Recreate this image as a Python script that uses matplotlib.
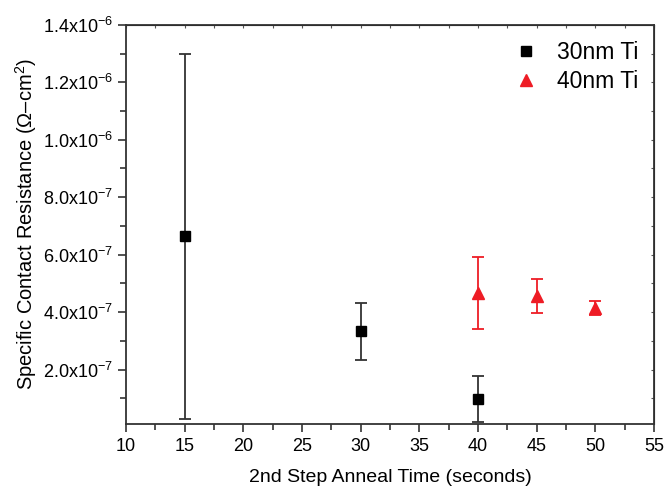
import matplotlib
matplotlib.use('Agg')
import matplotlib.pyplot as plt
from matplotlib.ticker import FuncFormatter, MultipleLocator

plt.rcParams['font.family'] = ['Liberation Sans', 'DejaVu Sans']
plt.rcParams['mathtext.fontset'] = 'custom'
plt.rcParams['mathtext.rm'] = 'Liberation Sans'

# 30nm Ti
t30 = [15, 30, 40]
rc30 = [6.64e-7, 3.33e-7, 0.98e-7]
err30 = [6.36e-7, 0.98e-7, 0.80e-7]

# 40nm Ti
t40 = [40, 45, 50]
rc40 = [4.66e-7, 4.56e-7, 4.15e-7]
err40 = [1.26e-7, 0.58e-7, 0.25e-7]

yticks = [2e-7, 4e-7, 6e-7, 8e-7, 1.0e-6, 1.2e-6, 1.4e-6]

red = '#ee1c25'


def sci_fmt(v, pos):
    exp = int(('%.1e' % v).split('e')[1])
    mant = v / 10**exp
    return r'$\mathregular{%.1fx10^{%d}}$' % (mant, exp)


fig = plt.figure(figsize=(6.64, 4.87), dpi=100)
ax = fig.add_axes([0.190, 0.129, 0.795, 0.820])

ax.errorbar(t30, rc30, yerr=err30, fmt='none', ecolor='#333333',
            capsize=4, elinewidth=1.3, capthick=1.3)
ax.errorbar(t40, rc40, yerr=err40, fmt='none', ecolor=red,
            capsize=4, elinewidth=1.3, capthick=1.3)
ax.plot(t30, rc30, 's', color='black', markersize=6.5, linestyle='none', label='30nm Ti')
ax.plot(t40, rc40, '^', color=red, markersize=8.5, linestyle='none', label='40nm Ti')

ax.set_xlim(10, 55)
ax.set_ylim(1e-8, 1.4e-6)
ax.set_yticks(yticks)
ax.yaxis.set_minor_locator(MultipleLocator(1e-7))
ax.xaxis.set_major_locator(MultipleLocator(5))
ax.xaxis.set_minor_locator(MultipleLocator(2.5))
ax.yaxis.set_major_formatter(FuncFormatter(sci_fmt))

ax.tick_params(which='both', direction='out', labelsize=13, width=1.2, color='#333333')
ax.tick_params(which='major', length=6)
ax.tick_params(which='minor', length=4)
ax.tick_params(axis='x', pad=4)
for s in ax.spines.values():
    s.set_linewidth(1.3)
    s.set_color('#333333')

# tiny ticks on top/right like the original
ax2 = ax.secondary_xaxis('top')
ax2.xaxis.set_major_locator(MultipleLocator(2.5))
ax2.tick_params(direction='in', length=2, width=0.8, labeltop=False, color='#555555')
ax3 = ax.secondary_yaxis('right')
ax3.yaxis.set_major_locator(MultipleLocator(1e-7))
ax3.tick_params(direction='in', length=2, width=0.8, labelright=False, color='#555555')

ax.set_xlabel('2nd Step Anneal Time (seconds)', fontsize=14, labelpad=10)
ax.set_ylabel(r'Specific Contact Resistance ($\mathregular{\Omega}$–cm$^2$)', fontsize=14.5,
              labelpad=3)

ax.legend(loc='upper right', frameon=False, fontsize=16.5,
          handletextpad=0.6, borderaxespad=0.3, labelspacing=0.25, handlelength=1.5)

fig.savefig('out.png', dpi=100)
